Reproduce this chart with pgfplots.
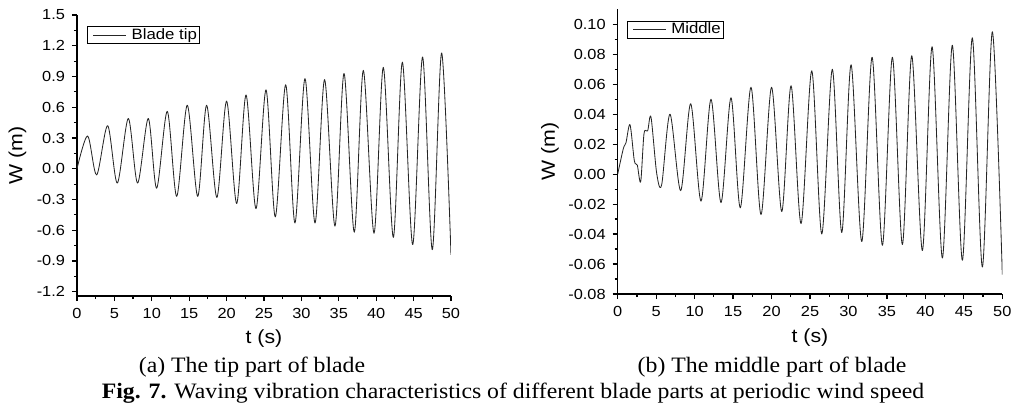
\documentclass[border=0pt]{standalone}
\usepackage{fontspec}
\setmainfont{Liberation Serif}[FakeStretch=1.08]
\newfontfamily\arial{Liberation Sans}[FakeStretch=1.12]
\usepackage{pgfplots}
\pgfplotsset{compat=1.18}

\pgfplotsset{
  blade/.style={
    scale only axis,
    anchor=south west,
    xmin=0, xmax=50,
    axis x line=bottom, axis y line=left,
    axis line style={-, line width=0.6pt, black},
    tick align=outside,
    major tick length=2.5pt, minor tick length=1.5pt,
    tick style={line width=0.6pt, black},
    xtick={0,5,...,50},
    minor x tick num=1, minor y tick num=1,
    /pgf/number format/assume math mode=true,
    tick label style={font=\arial\fontsize{7.3pt}{8.5pt}\selectfont},
    label style={font=\arial\fontsize{9.5pt}{11pt}\selectfont},
    xlabel={t (s)}, ylabel={W (m)},
    legend cell align=left,
    legend image code/.code={\path[draw=none,fill=none] (0pt,0pt) -- (21pt,0pt); \draw[#1] (2.5pt,0pt) -- (19pt,0pt);},
    legend style={anchor=north west, draw=black, line width=0.4pt,
      font=\arial\fontsize{7.5pt}{8.5pt}\selectfont,
      inner xsep=0.5pt, inner ysep=0pt,
      nodes={inner xsep=0.6pt, inner ysep=0.9pt}},
  },
  wline/.style={black!85, line width=0.42pt, smooth, tension=0.5, line join=round},
}

\begin{document}
\begin{tikzpicture}
\useasboundingbox (0pt,0pt) rectangle (511.5pt,-204pt);

% (a) blade tip
\begin{axis}[blade,
  at={(38.5pt,-148pt)}, width=187pt, height=140.5pt,
  ymin=-1.242, ymax=1.5,
  ytick={-1.2,-0.9,-0.6,-0.3,0,0.3,0.6,0.9,1.2,1.5},
  yticklabel style={/pgf/number format/.cd, fixed, fixed zerofill, precision=1},
  xlabel style={at={(axis description cs:0.5,-0.151)}, anchor=center},
  ylabel style={at={(axis description cs:-0.159,0.5)}, anchor=center},
  legend style={at={(0.0267,0.961)}},
]
\addplot[wline] coordinates {
(0,0) (1.42,0.32) (2.63,-0.06) (4.1,0.42) (5.39,-0.14) (6.86,0.49)
(8.1,-0.14) (9.53,0.49) (10.65,-0.19) (12.07,0.56) (13.33,-0.27)
(14.74,0.62) (16.14,-0.27) (17.33,0.62) (18.7,-0.28) (20.0,0.66)
(21.35,-0.34) (22.6,0.72) (23.93,-0.39) (25.27,0.77) (26.51,-0.47)
(27.9,0.82) (29.14,-0.53) (30.48,0.88) (31.82,-0.53) (33.1,0.87)
(34.49,-0.56) (35.7,0.93) (37.07,-0.62) (38.28,0.96) (39.71,-0.63)
(40.95,0.99) (42.29,-0.67) (43.5,1.04) (44.88,-0.74) (46.2,1.09)
(47.5,-0.79) (48.75,1.13) (50,-0.84)
};
\addlegendentry{Blade tip}
\end{axis}

% (b) middle
\begin{axis}[blade,
  at={(308.85pt,-147pt)}, width=192.3pt, height=142.35pt,
  ymin=-0.08, ymax=0.11,
  ytick={-0.08,-0.06,-0.04,-0.02,0,0.02,0.04,0.06,0.08,0.10},
  yticklabel style={/pgf/number format/.cd, fixed, fixed zerofill, precision=2},
  xlabel style={at={(axis description cs:0.5,-0.153)}, anchor=center},
  ylabel style={at={(axis description cs:-0.176,0.5)}, anchor=center},
  legend style={at={(0.0234,0.96)}},
]
\addplot[wline] coordinates {
(0,0) (0.73,0.017) (1.08,0.021) (1.6,0.033) (2.16,0.009) (2.55,0.006)
(2.99,-0.005) (3.42,0.027) (3.9,0.029) (4.33,0.038) (5.07,0.0005)
(5.72,-0.007) (6.8,0.040) (8.19,-0.011) (9.49,0.047) (10.83,-0.018)
(12.13,0.050) (13.43,-0.019) (14.73,0.051) (15.94,-0.0225) (17.33,0.058)
(18.63,-0.027) (20.0,0.058) (21.33,-0.025) (22.54,0.059) (23.84,-0.033)
(25.23,0.069) (26.53,-0.040) (27.9,0.070) (29.13,-0.039) (30.34,0.073)
(31.73,-0.045) (33.07,0.078) (34.41,-0.0475) (35.71,0.078) (37.01,-0.047)
(38.23,0.079) (39.61,-0.051) (40.87,0.085) (42.21,-0.056) (43.5,0.086)
(44.81,-0.0575) (46.1,0.091) (47.41,-0.062) (48.71,0.095) (50,-0.067)
};
\addlegendentry{Middle}
\end{axis}

% captions
\node[anchor=base, inner sep=0pt, font=\fontsize{11pt}{13pt}\selectfont] at (126pt,-186pt) {(a) The tip part of blade};
\node[anchor=base, inner sep=0pt, font=\fontsize{11pt}{13pt}\selectfont] at (386pt,-186pt) {(b) The middle part of blade};
\node[anchor=base, inner sep=0pt, font=\fontsize{11pt}{13pt}\selectfont] at (256.5pt,-199pt) {\textbf{Fig. 7.} Waving vibration characteristics of different blade parts at periodic wind speed};
\end{tikzpicture}
\end{document}
